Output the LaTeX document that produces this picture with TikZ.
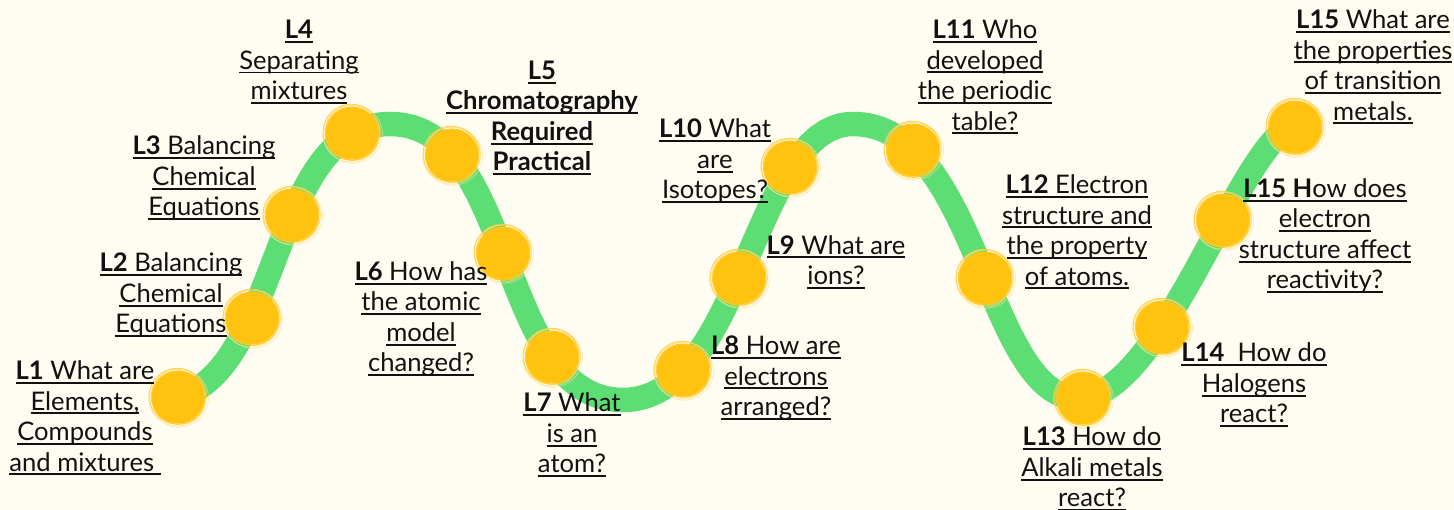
\documentclass[tikz,border=0pt]{standalone}
\usepackage{fontspec}
\setmainfont{Lato}
\definecolor{bgc}{HTML}{FFFDF1}
\definecolor{bandgreen}{HTML}{5CDE74}
\definecolor{dotyellow}{HTML}{FFC20E}
\definecolor{scribA}{HTML}{FFCB2E}
\definecolor{scribB}{HTML}{FFE08A}
\definecolor{ink}{HTML}{111111}
\newsavebox{\myulbox}
\newcommand{\ul}[1]{\sbox{\myulbox}{#1}\rlap{\rule[-4.3pt]{\wd\myulbox}{1.9pt}}\usebox{\myulbox}}
\begin{document}
\begin{tikzpicture}[x=1pt,y=1pt,
  band/.style={line width=24.5pt, draw=bandgreen},
  dot/.style={circle, fill=dotyellow, minimum size=53pt, inner sep=0pt},
  scrib/.style={draw=scribA, line width=0.7pt, opacity=0.85},
  lab/.style={align=center, text=ink, font=\fontsize{25.6}{30.5}\selectfont, inner sep=0pt}]
\fill[bgc] (0,0) rectangle (1454,510);
\useasboundingbox (0,0) rectangle (1454,510);
% extremes of the wave
\coordinate (s0) at (157,110);
\coordinate (pk1) at (390,386);
\coordinate (tr1) at (623,110);
\coordinate (pk2) at (853,386);
\coordinate (tr2) at (1078,112);
\coordinate (e0) at (1300,386);
\draw[band] (s0) .. controls (284,110) and (263,386) .. (pk1)
  .. controls (517,386) and (496,110) .. (tr1)
  .. controls (743,110) and (753,386) .. (pk2)
  .. controls (978,386) and (986.6,112) .. (tr2)
  .. controls (1165.4,112) and (1244.4,386) .. (e0);
% lesson dots
\node[dot] (c1) at (178,113) {};
\node[dot] (c2) at (252,192) {};
\node[dot] (c3) at (292,295) {};
\node[dot] (c4) at (352,377) {};
\node[dot] (c5) at (452,355) {};
\node[dot] (c6) at (503,257) {};
\node[dot] (c7) at (552,153) {};
\node[dot] (c8) at (683,140) {};
\node[dot] (c9) at (739,232) {};
\node[dot] (c10) at (790,343) {};
\node[dot] (c11) at (913,360) {};
\node[dot] (c12) at (985,232) {};
\node[dot] (c13) at (1083,112) {};
\node[dot] (c14) at (1162,183) {};
\node[dot] (c15) at (1223,290) {};
\node[dot] (c16) at (1295,383) {};
\foreach \n in {1,...,16} {
  \draw[scrib] ([shift={(0.8,0.5)}]c\n.center) circle (27.6);
  \draw[scrib, draw=scribB] ([shift={(-0.7,-0.6)}]c\n.center) circle (28.6);
  \draw[scrib, draw=scribB, line width=0.5pt] ([shift={(1.2,-1.0)}]c\n.center) circle (29.2);
  \draw[scrib] ([shift={(-1.0,0.9)}]c\n.center) circle (27.9);
  \draw[scrib] ([shift={(0.3,-0.9)}]c\n.center) circle (26.6);
}
% labels
\node[lab] (l1) at (85,92) {\ul{\textbf{L1} What are}\\\ul{Elements,}\\\ul{Compounds}\\\ul{and mixtures\ }};
\node[lab] (l2) at (171,215) {\ul{\textbf{L2} Balancing}\\\ul{Chemical}\\\ul{Equations}};
\node[lab] (l3) at (204,332) {\ul{\textbf{L3} Balancing}\\\ul{Chemical}\\\ul{Equations}};
\node[lab] (l4) at (299,448) {\ul{\textbf{L4}}\\\ul{Separating}\\\ul{mixtures}};
\node[lab, font=\fontsize{25.6}{30.5}\selectfont\bfseries] (l5) at (542,392) {\ul{L5}\\\ul{Chromatography}\\\ul{Required}\\\ul{Practical}};
\node[lab] (l6) at (421,191) {\ul{\textbf{L6} How has}\\\ul{the atomic}\\\ul{model}\\\ul{changed?}};
\node[lab] (l7) at (572,75) {\ul{\textbf{L7} What}\\\ul{is an}\\\ul{atom?}};
\node[lab] (l8) at (776,132) {\ul{\textbf{L8} How are}\\\ul{electrons}\\\ul{arranged?}};
\node[lab] (l9) at (836,248) {\ul{\textbf{L9} What are}\\\ul{ions?}};
\node[lab] (l10) at (715,349) {\ul{\textbf{L10} What}\\\ul{are}\\\ul{Isotopes?}};
\node[lab] (l11) at (985,433) {\ul{\textbf{L11} Who}\\\ul{developed}\\\ul{the periodic}\\\ul{table?}};
\node[lab] (l12) at (1077,278) {\ul{\textbf{L12} Electron}\\\ul{structure and}\\\ul{the property}\\\ul{of atoms.}};
\node[lab] (l13) at (1092,41) {\ul{\textbf{L13} How do}\\\ul{Alkali metals}\\\ul{react?}};
\node[lab] (l14) at (1254,125) {\ul{\textbf{L14}\ \ How do}\\\ul{Halogens}\\\ul{react?}};
\node[lab] (l15b) at (1325,274) {\ul{\textbf{L15 H}ow does}\\\ul{electron}\\\ul{structure affect}\\\ul{reactivity?}};
\node[lab] (l15a) at (1373,443) {\ul{\textbf{L15} What are}\\\ul{the properties}\\\ul{of transition}\\\ul{metals.}};
\end{tikzpicture}
\end{document}
